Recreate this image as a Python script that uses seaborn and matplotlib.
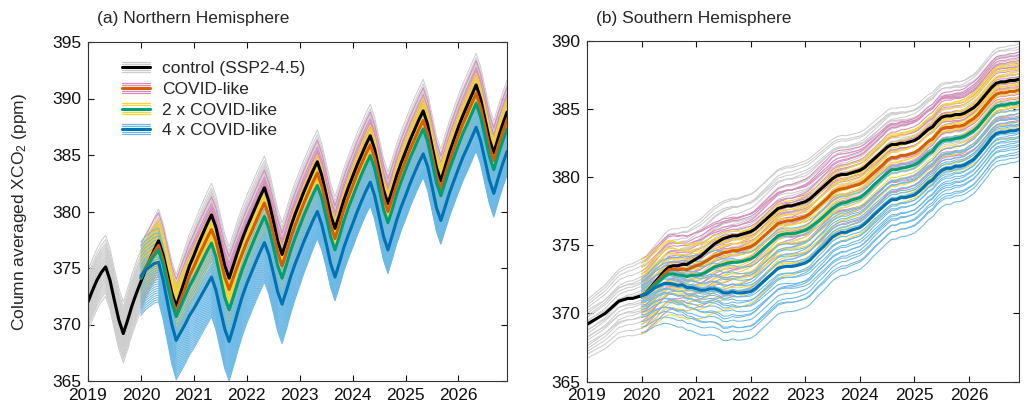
import numpy as np
import pandas as pd
import matplotlib
matplotlib.use("Agg")
import matplotlib.pyplot as plt
import seaborn as sns
from matplotlib.legend_handler import HandlerBase
from matplotlib.lines import Line2D

# ---------------- data ----------------
years_start = 2019
n_months = 96  # Jan 2019 .. Dec 2026

# Northern Hemisphere control (SSP2-4.5) ensemble mean, monthly, ppm
nh_control = [
    372.0, 373.0, 373.9, 374.6, 375.1, 373.9, 372.1, 370.4, 369.2, 370.4, 371.7, 372.8,
    373.8, 374.8, 375.7, 376.6, 377.4, 376.2, 374.5, 372.8, 371.6, 372.8, 374.0, 375.2,
    376.1, 377.1, 378.0, 378.9, 379.7, 378.6, 376.9, 375.2, 374.1, 375.3, 376.5, 377.6,
    378.6, 379.5, 380.4, 381.3, 382.1, 380.9, 379.2, 377.4, 376.2, 377.4, 378.7, 379.8,
    380.8, 381.8, 382.7, 383.6, 384.4, 383.2, 381.5, 379.7, 378.5, 379.7, 381.0, 382.1,
    383.1, 384.1, 385.0, 385.9, 386.7, 385.5, 383.7, 381.9, 380.7, 381.9, 383.2, 384.3,
    385.3, 386.3, 387.2, 388.1, 388.9, 387.7, 385.8, 383.9, 382.7, 384.0, 385.3, 386.4,
    387.5, 388.5, 389.4, 390.3, 391.2, 390.0, 388.2, 386.4, 385.2, 386.5, 387.7, 388.8,
]
# Gap below the control for the scenario means (monthly from Jan 2020), ppm
nh_gap_covid = [
    -0.3, -0.2, 0.0, 0.2, 0.4, 0.45, 0.5, 0.5, 0.5, 0.6, 0.8, 0.9,
    1.0, 1.1, 1.2, 1.25, 1.3, 1.2, 1.1, 1.0, 1.0, 1.1, 1.2, 1.3,
    1.3, 1.35, 1.35, 1.35, 1.35, 1.25, 1.1, 1.0, 1.0, 1.0, 1.0, 1.0,
    1.0, 1.0, 1.0, 1.0, 1.0, 0.95, 0.9, 0.9, 0.9, 0.85, 0.85, 0.85,
    0.85, 0.8, 0.8, 0.8, 0.8, 0.75, 0.75, 0.7, 0.7, 0.75, 0.8, 0.8,
    0.8, 0.8, 0.85, 0.85, 0.85, 0.8, 0.75, 0.7, 0.7, 0.7, 0.75, 0.75,
    0.75, 0.75, 0.75, 0.75, 0.75, 0.75, 0.7, 0.7, 0.7, 0.7, 0.7, 0.7,
]
nh_gap_2x = [
    -0.3, -0.1, 0.2, 0.5, 0.8, 0.85, 0.9, 0.9, 0.9, 1.2, 1.5, 1.8,
    2.0, 2.2, 2.3, 2.4, 2.5, 2.6, 2.7, 2.8, 2.8, 2.8, 2.75, 2.7,
    2.7, 2.65, 2.6, 2.6, 2.55, 2.4, 2.3, 2.2, 2.1, 2.1, 2.1, 2.1,
    2.1, 2.1, 2.1, 2.1, 2.1, 2.0, 2.0, 1.9, 1.9, 1.9, 1.85, 1.8,
    1.8, 1.8, 1.75, 1.75, 1.75, 1.7, 1.7, 1.7, 1.7, 1.7, 1.65, 1.65,
    1.6, 1.6, 1.6, 1.6, 1.6, 1.5, 1.4, 1.35, 1.3, 1.4, 1.5, 1.55,
    1.6, 1.6, 1.65, 1.65, 1.65, 1.6, 1.55, 1.5, 1.5, 1.5, 1.5, 1.5,
]
nh_gap_4x = [
    -0.5, 0.0, 0.6, 1.2, 1.9, 2.2, 2.5, 2.8, 3.0, 3.5, 4.0, 4.4,
    4.7, 5.0, 5.2, 5.4, 5.5, 5.55, 5.6, 5.6, 5.6, 5.5, 5.3, 5.1,
    5.0, 4.95, 4.9, 4.9, 4.85, 4.7, 4.6, 4.5, 4.4, 4.4, 4.4, 4.4,
    4.4, 4.4, 4.4, 4.4, 4.4, 4.35, 4.3, 4.3, 4.3, 4.25, 4.2, 4.2,
    4.2, 4.15, 4.1, 4.1, 4.1, 4.1, 4.1, 4.1, 4.1, 4.0, 3.95, 3.9,
    3.9, 3.85, 3.8, 3.8, 3.8, 3.7, 3.6, 3.55, 3.5, 3.55, 3.6, 3.65,
    3.7, 3.7, 3.75, 3.75, 3.75, 3.7, 3.65, 3.6, 3.6, 3.55, 3.5, 3.5,
]
# NH ensemble members: offset of each member from its scenario mean, ppm
nh_members_control = [-2.6, -2.3, -2.1, -1.9, -1.7, -1.5, -1.3, -1.2, -1.0, -0.9,
                      -0.7, -0.6, -0.4, -0.3, -0.1, 0.0, 0.2, 0.3, 0.5, 0.6,
                      0.8, 0.9, 1.1, 1.3, 1.5, 1.7, 1.9, 2.1, 2.4, 2.8]
nh_members_covid = [-2.6, -2.3, -2.1, -1.9, -1.7, -1.5, -1.3, -1.1, -1.0, -0.8,
                    -0.6, -0.5, -0.3, -0.2, 0.0, 0.1, 0.3, 0.4, 0.6, 0.7,
                    0.9, 1.0, 1.2, 1.3, 1.5, 1.6, 1.8, 2.0, 2.3, 2.9]
nh_members_2x = [-2.3, -1.9, -1.6, -1.4, -1.2, -1.0, -0.8, -0.6, -0.5, -0.3,
                 -0.2, 0.0, 0.1, 0.3, 0.4, 0.5, 0.7, 0.8, 0.9, 1.1,
                 1.2, 1.3, 1.5, 1.6, 1.7, 1.9, 2.0, 2.2, 2.4, 2.7]
# 4x members: offsets read in 2020-2022 and in 2023-2026 (spread narrows)
nh_years_4x = [2020.0, 2022.7, 2023.5, 2026.92]
nh_members_4x_early = [-3.5, -3.3, -3.1, -2.9, -2.7, -2.5, -2.3, -2.1, -1.9, -1.7,
                       -1.5, -1.3, -1.1, -0.9, -0.7, -0.5, -0.3, -0.1, 0.1, 0.3,
                       0.5, 0.7, 0.9, 1.1, 1.4, 1.7, 2.0, 2.3, 2.6, 3.0]
nh_members_4x_late = [-2.1, -2.0, -1.9, -1.8, -1.7, -1.6, -1.5, -1.4, -1.3, -1.2,
                      -1.0, -0.9, -0.8, -0.7, -0.5, -0.4, -0.3, -0.1, 0.0, 0.2,
                      0.4, 0.6, 0.8, 1.0, 1.2, 1.4, 1.6, 1.8, 2.0, 2.3]

# Southern Hemisphere control ensemble mean, monthly, ppm
sh_control = [
    369.2, 369.4, 369.6, 369.8, 370.0, 370.3, 370.6, 370.9, 371.0, 371.1, 371.1, 371.2,
    371.3, 371.5, 371.9, 372.3, 372.7, 373.1, 373.4, 373.5, 373.5, 373.6, 373.6, 373.8,
    374.0, 374.2, 374.5, 374.8, 375.1, 375.3, 375.5, 375.6, 375.7, 375.7, 375.8, 375.9,
    376.0, 376.2, 376.5, 376.8, 377.1, 377.4, 377.7, 377.8, 377.9, 377.9, 378.0, 378.1,
    378.2, 378.4, 378.7, 379.0, 379.3, 379.6, 379.9, 380.1, 380.2, 380.2, 380.3, 380.4,
    380.5, 380.7, 381.0, 381.3, 381.6, 381.9, 382.2, 382.4, 382.4, 382.5, 382.5, 382.6,
    382.7, 382.9, 383.2, 383.5, 383.7, 384.1, 384.4, 384.5, 384.5, 384.6, 384.6, 384.7,
    384.9, 385.1, 385.4, 385.8, 386.2, 386.6, 386.9, 387.0, 387.0, 387.1, 387.1, 387.2,
]
sh_gap_covid = [
    0.0, 0.0, 0.05, 0.1, 0.15, 0.2, 0.2, 0.25, 0.3, 0.35, 0.4, 0.45,
    0.5, 0.6, 0.7, 0.8, 0.9, 1.0, 1.05, 1.1, 1.1, 1.1, 1.1, 1.1,
    1.1, 1.1, 1.1, 1.1, 1.1, 1.1, 1.1, 1.1, 1.1, 1.1, 1.1, 1.1,
    1.1, 1.1, 1.1, 1.1, 1.1, 1.1, 1.05, 1.05, 1.05, 1.0, 1.0, 1.0,
    1.0, 1.0, 1.0, 1.0, 1.0, 1.0, 0.95, 0.95, 0.95, 0.9, 0.9, 0.9,
    0.9, 0.9, 0.9, 0.9, 0.9, 0.9, 0.85, 0.85, 0.85, 0.85, 0.85, 0.85,
    0.8, 0.8, 0.8, 0.8, 0.8, 0.8, 0.8, 0.8, 0.8, 0.8, 0.8, 0.8,
]
sh_gap_2x = [
    0.0, 0.05, 0.1, 0.2, 0.3, 0.4, 0.5, 0.6, 0.7, 0.8, 0.9, 1.0,
    1.2, 1.35, 1.5, 1.6, 1.7, 1.8, 1.9, 1.9, 1.95, 1.95, 2.0, 2.0,
    2.0, 2.0, 2.0, 2.0, 2.0, 2.0, 2.0, 2.0, 2.05, 2.05, 2.1, 2.1,
    2.1, 2.1, 2.15, 2.2, 2.2, 2.2, 2.2, 2.15, 2.1, 2.05, 2.0, 2.0,
    2.0, 1.95, 1.95, 1.9, 1.9, 1.9, 1.9, 1.85, 1.85, 1.85, 1.8, 1.8,
    1.8, 1.8, 1.8, 1.8, 1.8, 1.75, 1.75, 1.75, 1.75, 1.75, 1.7, 1.7,
    1.7, 1.7, 1.7, 1.7, 1.7, 1.7, 1.7, 1.7, 1.7, 1.7, 1.7, 1.7,
]
sh_gap_4x = [
    0.0, 0.1, 0.25, 0.4, 0.65, 0.9, 1.2, 1.35, 1.45, 1.5, 1.7, 1.9,
    2.2, 2.5, 2.8, 3.0, 3.3, 3.6, 4.0, 4.1, 4.1, 4.2, 4.3, 4.35,
    4.4, 4.4, 4.4, 4.4, 4.4, 4.4, 4.4, 4.4, 4.45, 4.45, 4.5, 4.5,
    4.5, 4.5, 4.45, 4.4, 4.4, 4.35, 4.3, 4.3, 4.25, 4.25, 4.2, 4.2,
    4.2, 4.15, 4.15, 4.1, 4.1, 4.1, 4.1, 4.05, 4.05, 4.0, 4.0, 4.0,
    4.0, 3.95, 3.95, 3.9, 3.9, 3.9, 3.9, 3.85, 3.85, 3.8, 3.8, 3.8,
    3.8, 3.8, 3.75, 3.75, 3.75, 3.7, 3.7, 3.7, 3.7, 3.7, 3.7, 3.7,
]
# SH member offsets from the scenario mean at the read-off years
sh_years_control = [2019.0, 2020.0, 2023.0, 2026.92]
sh_members_control = [
    [-2.5, -2.8, -2.2, -2.0], [-2.2, -2.4, -2.6, -1.5], [-2.0, -1.9, -1.2, -2.3],
    [-1.8, -1.5, -2.0, -0.8], [-1.6, -1.2, -0.5, -1.6], [-1.4, -1.6, -1.0, 0.2],
    [-1.2, -0.9, -1.8, -1.0], [-1.0, -0.6, 0.3, -0.4], [-0.9, -1.1, -0.2, 0.9],
    [-0.7, -0.3, -1.3, -1.9], [-0.5, 0.1, 0.8, 0.4], [-0.4, -0.5, 0.1, -0.2],
    [-0.2, 0.4, 1.2, 1.5], [0.0, 0.2, -0.6, 0.6], [0.2, 0.7, 1.6, 1.1],
    [0.3, 0.0, 0.6, 2.0], [0.5, 0.9, 2.1, 1.3], [0.6, 1.2, 0.9, -0.1],
    [0.8, 1.4, 2.6, 1.8], [1.0, 1.0, 1.5, 2.4], [1.2, 1.8, 2.3, 0.9],
    [1.4, 2.2, 3.0, 2.2], [1.6, 2.5, 1.9, 2.6], [1.8, 2.7, 2.8, 1.7],
]
sh_years_scen = [2020.0, 2021.5, 2023.5, 2026.92]
sh_members_covid = [
    [-2.8, -3.2, -2.6, -2.2], [-2.4, -1.8, -2.9, -1.7], [-2.1, -2.7, -1.5, -2.5],
    [-1.9, -1.2, -2.0, -1.2], [-1.6, -2.2, -0.9, -0.6], [-1.3, -0.6, -1.6, -1.9],
    [-1.1, -1.5, -0.4, -0.9], [-0.9, -0.2, -1.1, 0.1], [-0.6, -1.0, 0.2, -0.3],
    [-0.4, 0.3, -0.6, 0.8], [-0.2, -0.4, 0.7, 0.3], [0.0, 0.6, 0.0, -0.5],
    [0.2, 0.1, 1.0, 1.2], [0.4, 0.9, 0.5, 0.6], [0.6, 0.4, 1.4, 1.8],
    [0.8, 1.3, 0.8, 0.2], [1.0, 0.7, 1.7, 2.2], [1.2, 1.6, 1.2, 1.0],
    [1.4, 1.1, 2.0, 2.6], [1.6, 1.9, 1.5, 1.5], [1.8, 2.2, 2.3, 2.8],
    [2.1, 1.7, 2.6, 2.0], [2.4, 2.5, 2.1, 2.4], [2.7, 2.3, 2.9, 1.7],
]
sh_members_2x = [
    [-2.8, -3.4, -2.8, -2.0], [-2.4, -2.6, -1.9, -2.6], [-2.1, -1.8, -2.4, -1.4],
    [-1.9, -2.3, -1.3, -0.8], [-1.6, -1.1, -1.8, -1.8], [-1.3, -1.7, -0.7, -0.3],
    [-1.1, -0.8, -1.3, -1.1], [-0.9, -1.3, -0.2, 0.4], [-0.6, -0.3, -0.9, -0.5],
    [-0.4, -0.9, 0.3, 0.9], [-0.2, 0.2, -0.4, 0.1], [0.0, -0.4, 0.6, 1.4],
    [0.2, 0.6, 0.1, -0.2], [0.4, 0.0, 1.0, 1.8], [0.6, 1.0, 0.5, 0.7],
    [0.8, 0.5, 1.3, 2.3], [1.0, 1.4, 0.9, 1.1], [1.2, 0.9, 1.7, 2.6],
    [1.4, 1.7, 1.2, 1.6], [1.6, 1.3, 2.1, 3.0], [1.8, 2.0, 1.6, 2.1],
    [2.1, 1.6, 2.4, 2.8], [2.4, 2.3, 2.0, 1.3], [2.7, 2.0, 2.7, 2.5],
]
sh_members_4x = [
    [-2.7, -3.5, -3.2, -2.3], [-2.3, -2.9, -2.5, -2.0], [-1.9, -2.5, -2.7, -1.6],
    [-1.6, -2.1, -1.9, -1.8], [-1.4, -2.6, -2.2, -1.2], [-1.2, -1.7, -1.4, -1.4],
    [-1.0, -1.3, -1.8, -0.9], [-0.8, -1.9, -1.1, -1.1], [-0.7, -0.9, -1.5, -0.6],
    [-0.5, -1.1, -0.6, -0.8], [-0.4, -0.5, -1.0, -0.3], [-0.2, -0.8, -0.3, -0.5],
    [-0.1, -0.2, -0.7, 0.0], [0.0, 0.2, 0.0, -0.2], [0.1, -0.4, 0.4, 0.3],
    [0.3, 0.6, 0.2, 0.1], [0.4, 0.1, 0.8, 0.6], [0.5, 1.0, 0.6, 0.4],
    [0.6, 0.5, 1.2, 0.9], [0.7, 1.5, 1.0, 1.2], [0.8, 1.1, 1.6, 0.8],
    [1.0, 2.0, 1.4, 1.5], [1.1, 2.5, 2.0, 1.9], [1.3, 3.0, 2.7, 2.0],
]

labels = ["control (SSP2-4.5)", "COVID-like", "2 x COVID-like", "4 x COVID-like"]
xticks = [2019, 2020, 2021, 2022, 2023, 2024, 2025, 2026]
nh_yticks = [365, 370, 375, 380, 385, 390, 395]
sh_yticks = [365, 370, 375, 380, 385, 390]

# ---------------- styling ----------------
mean_colors = ["#000000", "#D55E00", "#009E73", "#0072B2"]
member_colors = ["#cdcdcd", "#D98BBE", "#F2D63A", "#6DB9E6"]

sns.set_theme(style="ticks")
plt.rcParams["font.family"] = ["Liberation Sans", "DejaVu Sans"]
plt.rcParams["mathtext.fontset"] = "custom"
plt.rcParams["mathtext.rm"] = "Liberation Sans"
plt.rcParams["mathtext.it"] = "Liberation Sans:italic"

t_all = years_start + np.arange(n_months) / 12.0
t_scen = t_all[12:]


def member_frame(t, mean, offsets, anchors=None):
    rows = []
    for k, off in enumerate(offsets):
        if anchors is None:
            vals = np.asarray(mean) + off
        else:
            vals = np.asarray(mean) + np.interp(t, anchors, off)
        rows.append(pd.DataFrame({"year": t, "xco2": vals, "member": k}))
    return pd.concat(rows, ignore_index=True)


fig = plt.figure(figsize=(10.28, 4.09), dpi=100)
W, H = 1028, 409
ax1 = fig.add_axes([88 / W, 1 - 381 / H, (507 - 88) / W, (381 - 42) / H])
ax2 = fig.add_axes([587 / W, 1 - 381.5 / H, (1019 - 587) / W, (381.5 - 41) / H])


def draw_panel(ax, control, gaps, members, anchors):
    control = np.asarray(control)
    means = [control] + [control[12:] - np.asarray(g) for g in gaps]
    times = [t_all, t_scen, t_scen, t_scen]
    for i in range(4):
        df = member_frame(times[i], means[i], members[i], anchors[i])
        sns.lineplot(data=df, x="year", y="xco2", units="member", estimator=None,
                     color=member_colors[i], lw=0.75, ax=ax, legend=False)
    for i in range(4):
        sns.lineplot(x=times[i], y=means[i], color=mean_colors[i], lw=2.2,
                     ax=ax, legend=False)


nh_members_4x = [[e, e, l, l] for e, l in zip(nh_members_4x_early, nh_members_4x_late)]
draw_panel(ax1, nh_control, [nh_gap_covid, nh_gap_2x, nh_gap_4x],
           [nh_members_control, nh_members_covid, nh_members_2x, nh_members_4x],
           [None, None, None, nh_years_4x])
draw_panel(ax2, sh_control, [sh_gap_covid, sh_gap_2x, sh_gap_4x],
           [sh_members_control, sh_members_covid, sh_members_2x, sh_members_4x],
           [sh_years_control, sh_years_scen, sh_years_scen, sh_years_scen])

for ax, yt in ((ax1, nh_yticks), (ax2, sh_yticks)):
    ax.set_xlim(2019, 2026 + 11 / 12)
    ax.set_ylim(yt[0], yt[-1])
    ax.set_xticks(xticks)
    ax.set_yticks(yt)
    ax.set_xlabel("")
    ax.set_ylabel("")
    ax.tick_params(direction="in", top=True, right=True, length=4, width=0.8,
                   labelsize=12.5, colors="#111111", pad=5)
    for s in ax.spines.values():
        s.set_linewidth(0.8)
        s.set_color("#333333")
        s.set_visible(True)

fig.text(97 / W, 1 - 18 / H, "(a) Northern Hemisphere", ha="left", va="center", fontsize=12.5)
fig.text(596 / W, 1 - 18 / H, "(b) Southern Hemisphere", ha="left", va="center", fontsize=12.5)
fig.text(20 / W, 1 - 212 / H, "Column averaged XCO$_\\mathregular{2}$ (ppm)",
         rotation=90, ha="center", va="center", fontsize=12.5)


class BandHandler(HandlerBase):
    def __init__(self, thin, thick):
        super().__init__()
        self.thin = thin
        self.thick = thick

    def create_artists(self, legend, orig_handle, xdescent, ydescent, width,
                       height, fontsize, trans):
        yc = height / 2 - ydescent
        x0, x1 = -xdescent, -xdescent + width
        arts = []
        for dy in (-0.42, -0.25, 0.25, 0.42):
            arts.append(Line2D([x0, x1], [yc + dy * height] * 2, color=self.thin,
                               lw=0.9, transform=trans))
        arts.append(Line2D([x0, x1], [yc, yc], color=self.thick, lw=2.2, transform=trans))
        return arts


handles = [Line2D([], [], color=c) for c in mean_colors]
hmap = {h: BandHandler(member_colors[i], mean_colors[i]) for i, h in enumerate(handles)}
ax1.legend(handles, labels, handler_map=hmap, loc="upper left",
           bbox_to_anchor=(0.045, 0.99), frameon=False, fontsize=12.5,
           handlelength=1.6, handletextpad=0.7, labelspacing=0.32)

fig.savefig("out.png", dpi=100)
